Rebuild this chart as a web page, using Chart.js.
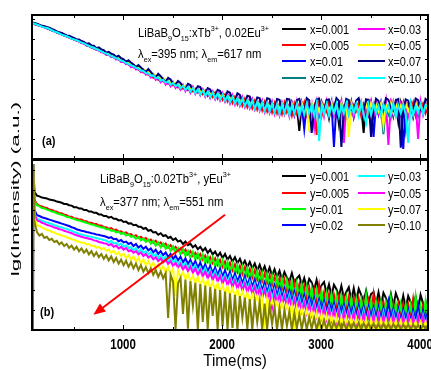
<!DOCTYPE html>
<html>
<head>
<meta charset="utf-8">
<script src="https://cdn.jsdelivr.net/npm/chart.js@4.4.0/dist/chart.umd.min.js"></script>
<style>
  html, body { margin: 0; padding: 0; background: #fff; }
  #wrap { position: relative; width: 431px; height: 370px; overflow: hidden; }
  #wrap canvas { position: absolute; left: 0; top: 0; }
</style>
</head>
<body>
<div id="wrap">
  <canvas id="chartB" width="431" height="370"></canvas>
  <canvas id="chartA" width="431" height="370"></canvas>
</div>
<script>
// ---------------------------------------------------------
// Data (lg intensity in arbitrary units, time in ms)
// ---------------------------------------------------------
const timeA = [80,105,130,155,180,205,230,255,280,305,
  330,355,380,405,430,455,480,505,530,555,
  580,605,630,655,680,705,730,755,780,805,
  830,855,880,905,930,955,980,1005,1030,1055,
  1080,1105,1130,1155,1180,1205,1230,1255,1280,1305,
  1330,1355,1380,1405,1430,1455,1480,1505,1530,1555,
  1580,1605,1630,1655,1680,1705,1730,1755,1780,1805,
  1830,1855,1880,1905,1930,1955,1980,2005,2030,2055,
  2080,2105,2130,2155,2180,2205,2230,2255,2280,2305,
  2330,2355,2380,2405,2430,2455,2480,2505,2530,2555,
  2580,2605,2630,2655,2680,2705,2730,2755,2780,2805,
  2830,2855,2880,2905,2930,2955,2980,3005,3030,3055,
  3080,3105,3130,3155,3180,3205,3230,3255,3280,3305,
  3330,3355,3380,3405,3430,3455,3480,3505,3530,3555,
  3580,3605,3630,3655,3680,3705,3730,3755,3780,3805,
  3830,3855,3880,3905,3930,3955,3980,4005,4030,4055,
  4080];
// panel (b) curves start with the excitation rise
const timeB = [90, 92].concat(timeA.slice(1));

const xTicks = [1000, 2000, 3000, 4000];
const xMinorTicks = [500, 1500, 2500, 3500];

// panel (a): LiBaB9O15:xTb3+, 0.02Eu3+
const seriesALabels = ['x=0.001', 'x=0.005', 'x=0.01', 'x=0.02', 'x=0.03', 'x=0.05', 'x=0.07', 'x=0.10'];
const seriesAColors = ['#000000', '#ff0000', '#0000ff', '#008080', '#ff00ff', '#ffff00', '#000080', '#00ffff'];
const a001 = [3.40,3.39,3.35,3.35,3.31,3.31,3.27,3.26,3.22,3.21, 3.16,3.15,3.11,3.10,3.06,3.05,3.01,3.00,2.96,2.95,
  2.90,2.90,2.84,2.85,2.79,2.79,2.73,2.74,2.68,2.68, 2.61,2.63,2.56,2.58,2.50,2.52,2.44,2.47,2.38,2.41,
  2.32,2.35,2.26,2.30,2.19,2.24,2.13,2.18,2.06,2.12, 2.00,2.07,1.94,2.00,1.90,1.96,1.84,1.91,1.80,1.87,
  1.75,1.84,1.72,1.80,1.68,1.78,1.65,1.75,1.62,1.72, 1.58,1.70,1.55,1.67,1.52,1.65,1.49,1.62,1.46,1.60,
  1.42,1.57,1.40,1.53,1.36,1.50,1.33,1.48,1.30,1.47, 1.26,1.45,1.25,1.42,1.20,1.41,1.18,1.40,1.16,1.39,
  1.12,1.38,1.15,1.36,1.10,1.40,1.14,1.35,0.70,1.37, 1.08,1.41,1.16,1.33,1.05,1.38,1.12,1.42,1.18,1.34,
  1.02,1.39,1.15,1.36,0.88,1.40,1.10,1.35,1.14,1.43, 1.06,1.37,1.19,1.32,0.65,1.38,1.11,1.41,1.09,1.36,
  1.15,1.39,1.03,1.34,1.17,1.42,1.08,1.37,0.92,1.40, 1.12,1.35,1.18,1.41,1.06,1.38,1.13,1.33,1.16,1.40,1.21];
const a005 = [3.41,3.37,3.36,3.33,3.33,3.29,3.29,3.24,3.24,3.19, 3.18,3.13,3.13,3.08,3.08,3.03,3.03,2.98,2.98,2.93,
  2.93,2.88,2.87,2.82,2.82,2.76,2.76,2.71,2.71,2.65, 2.65,2.60,2.60,2.54,2.55,2.48,2.49,2.42,2.43,2.36,
  2.37,2.29,2.31,2.23,2.25,2.16,2.19,2.10,2.14,2.03, 2.08,1.98,2.02,1.94,1.98,1.88,1.93,1.84,1.89,1.79,
  1.85,1.76,1.82,1.72,1.79,1.69,1.76,1.66,1.73,1.62, 1.71,1.58,1.68,1.55,1.66,1.51,1.63,1.48,1.61,1.44,
  1.58,1.40,1.55,1.37,1.52,1.33,1.50,1.30,1.48,1.27, 1.45,1.24,1.43,1.22,1.42,1.19,1.40,1.17,1.39,1.15,
  1.37,1.13,1.40,1.17,1.35,1.09,1.38,1.14,1.36,1.20, 1.41,1.11,1.37,1.16,1.33,0.60,1.39,1.07,1.34,1.19,
  1.42,1.13,1.36,1.10,1.40,1.18,1.32,1.06,1.38,1.15, 1.35,1.21,1.41,1.08,1.36,1.14,1.39,0.82,1.33,1.17,
  1.40,1.10,1.37,1.19,1.34,1.05,1.42,1.16,1.36,1.12, 1.39,0.75,1.33,1.18,1.41,1.09,1.35,1.20,1.38,1.14,1.29];
const a01 = [3.39,3.38,3.36,3.34,3.31,3.30,3.27,3.25,3.22,3.20, 3.17,3.14,3.12,3.09,3.07,3.04,3.02,2.99,2.97,2.94,
  2.91,2.89,2.85,2.83,2.80,2.77,2.74,2.72,2.69,2.66, 2.63,2.61,2.58,2.55,2.52,2.49,2.46,2.43,2.40,2.37,
  2.33,2.31,2.27,2.25,2.21,2.19,2.15,2.13,2.09,2.07, 2.02,2.01,1.96,1.97,1.92,1.93,1.86,1.89,1.83,1.85,
  1.78,1.82,1.74,1.79,1.70,1.76,1.66,1.74,1.63,1.71, 1.60,1.69,1.56,1.66,1.53,1.64,1.50,1.61,1.47,1.59,
  1.44,1.56,1.41,1.53,1.37,1.50,1.34,1.47,1.31,1.45, 1.28,1.43,1.26,1.41,1.23,1.40,1.20,1.38,1.19,1.37,
  1.15,1.36,1.17,1.40,1.13,1.35,1.10,1.38,1.16,1.34, 0.75,1.39,1.12,1.36,1.18,1.41,1.09,1.33,1.15,1.38,
  1.11,1.40,0.30,1.35,1.14,1.37,1.07,1.42,1.16,1.34, 1.10,1.39,1.17,1.36,1.05,1.40,1.13,1.33,0.55,1.38,
  1.12,1.41,1.08,1.35,1.18,1.37,1.11,1.40,1.14,1.34, 0.25,1.38,1.16,1.33,1.09,1.41,1.13,1.36,1.17,1.39,1.24];
const a02 = [3.40,3.38,3.35,3.34,3.32,3.29,3.28,3.25,3.22,3.20, 3.17,3.15,3.12,3.10,3.06,3.05,3.01,3.00,2.96,2.95,
  2.91,2.89,2.86,2.83,2.80,2.78,2.74,2.73,2.69,2.67, 2.63,2.62,2.58,2.56,2.52,2.51,2.46,2.45,2.40,2.39,
  2.34,2.33,2.28,2.27,2.22,2.21,2.16,2.15,2.10,2.09, 2.03,2.04,1.97,1.99,1.92,1.94,1.87,1.90,1.83,1.86,
  1.79,1.82,1.75,1.80,1.71,1.77,1.67,1.74,1.64,1.71, 1.61,1.68,1.58,1.65,1.55,1.63,1.51,1.60,1.48,1.57,
  1.45,1.54,1.42,1.51,1.38,1.49,1.35,1.46,1.32,1.44, 1.29,1.42,1.27,1.40,1.24,1.39,1.22,1.37,1.20,1.36,
  1.17,1.35,1.14,1.37,1.12,1.33,1.15,1.36,1.10,1.32, 1.16,1.38,0.85,1.34,1.13,1.37,1.11,1.31,1.17,1.39,
  1.09,1.35,1.15,1.33,1.12,1.38,0.95,1.34,1.14,1.36, 1.11,1.32,1.16,1.39,1.08,1.35,1.13,1.37,1.10,1.33,
  1.15,1.38,0.62,1.34,1.12,1.36,1.17,1.31,1.09,1.37, 1.14,1.35,1.11,1.39,1.16,1.32,1.08,1.36,1.13,1.34,1.23];
const a03 = [3.40,3.37,3.36,3.33,3.32,3.29,3.27,3.25,3.23,3.19, 3.17,3.14,3.12,3.09,3.07,3.04,3.01,2.99,2.96,2.94,
  2.90,2.88,2.85,2.83,2.79,2.77,2.73,2.72,2.67,2.66, 2.61,2.61,2.55,2.56,2.49,2.50,2.43,2.44,2.37,2.38,
  2.30,2.33,2.24,2.27,2.17,2.21,2.11,2.15,2.04,2.10, 1.98,2.05,1.92,1.99,1.86,1.95,1.82,1.92,1.78,1.88,
  1.74,1.85,1.70,1.82,1.66,1.80,1.63,1.77,1.60,1.74, 1.56,1.72,1.53,1.69,1.50,1.67,1.47,1.64,1.44,1.62,
  1.40,1.59,1.37,1.56,1.34,1.54,1.31,1.51,1.28,1.49, 1.25,1.47,1.22,1.45,1.19,1.44,1.17,1.42,1.14,1.41,
  1.11,1.40,1.14,1.42,1.08,1.39,1.13,1.43,1.05,1.40, 1.10,1.41,1.15,1.38,0.80,1.42,1.12,1.39,1.07,1.44,
  1.14,1.40,1.09,1.37,1.16,1.43,0.40,1.38,1.11,1.41, 1.06,1.39,1.15,1.42,1.10,1.36,1.13,1.44,1.08,1.40,
  1.14,1.37,1.05,1.43,0.35,1.39,1.12,1.41,1.09,1.38, 1.16,1.42,1.07,1.36,1.13,1.40,0.50,1.43,1.11,1.38,1.18];
const a05 = [3.41,3.39,3.37,3.35,3.33,3.31,3.29,3.27,3.24,3.21, 3.18,3.16,3.13,3.11,3.08,3.06,3.03,3.01,2.98,2.96,
  2.93,2.91,2.88,2.85,2.82,2.80,2.77,2.74,2.71,2.69, 2.66,2.63,2.60,2.57,2.55,2.52,2.49,2.46,2.43,2.40,
  2.37,2.34,2.32,2.28,2.25,2.23,2.21,2.17,2.14,2.12, 2.09,2.06,2.02,2.01,1.98,1.96,1.92,1.91,1.89,1.87,
  1.84,1.83,1.82,1.79,1.76,1.77,1.72,1.74,1.70,1.71, 1.66,1.68,1.64,1.65,1.59,1.63,1.58,1.60,1.56,1.58,
  1.52,1.55,1.48,1.52,1.46,1.50,1.43,1.47,1.40,1.44, 1.37,1.42,1.35,1.40,1.33,1.39,1.31,1.38,1.29,1.37,
  1.24,1.39,1.26,1.36,1.20,1.38,1.23,1.35,1.21,1.40, 1.18,1.36,0.70,1.39,1.22,1.35,1.19,1.38,1.25,1.37,
  1.20,1.40,1.16,1.34,1.23,1.39,1.18,1.36,0.55,1.38, 1.21,1.35,1.15,1.40,1.22,1.37,1.17,1.39,1.24,1.36,
  1.19,1.38,0.85,1.35,1.21,1.40,1.16,1.37,1.23,1.34, 1.18,1.39,1.20,1.36,1.14,1.41,1.22,1.35,1.19,1.38,1.22];
const a07 = [3.41,3.40,3.38,3.36,3.33,3.32,3.30,3.28,3.25,3.23, 3.19,3.17,3.15,3.12,3.09,3.08,3.05,3.03,2.99,2.99,
  2.95,2.93,2.88,2.89,2.84,2.83,2.77,2.79,2.74,2.72, 2.66,2.68,2.63,2.61,2.55,2.58,2.52,2.49,2.43,2.47,
  2.41,2.36,2.30,2.35,2.29,2.22,2.18,2.25,2.18,2.10, 2.04,2.13,2.07,1.99,1.93,2.03,1.99,1.88,1.86,1.95,
  1.90,1.80,1.76,1.88,1.85,1.72,1.70,1.82,1.80,1.66, 1.64,1.77,1.74,1.60,1.58,1.73,1.70,1.55,1.52,1.69,
  1.66,1.48,1.46,1.64,1.60,1.42,1.40,1.58,1.56,1.36, 1.35,1.54,1.52,1.32,1.30,1.52,1.50,1.27,1.27,1.50,
  1.48,1.24,1.25,1.50,1.49,1.20,1.22,1.47,1.50,1.28, 1.18,1.52,1.47,0.65,1.24,1.49,1.51,1.21,1.19,1.48,
  1.49,1.22,1.26,1.52,1.45,0.30,1.20,1.50,1.47,1.24, 1.19,1.46,1.52,1.25,1.21,1.49,1.48,0.55,1.23,1.51,
  1.45,1.17,1.22,1.52,1.48,1.25,1.20,1.47,1.50,0.28, 1.21,1.49,1.46,1.18,1.24,1.51,1.47,1.22,1.19,1.50,1.44];
const a10 = [3.40,3.38,3.36,3.34,3.31,3.29,3.28,3.25,3.22,3.19, 3.17,3.14,3.11,3.09,3.07,3.04,3.01,2.99,2.97,2.94,
  2.91,2.89,2.86,2.83,2.80,2.78,2.75,2.72,2.69,2.66, 2.64,2.61,2.58,2.55,2.52,2.49,2.46,2.44,2.40,2.38,
  2.34,2.32,2.28,2.26,2.21,2.20,2.15,2.14,2.08,2.09, 2.02,2.04,1.96,1.98,1.91,1.94,1.86,1.90,1.82,1.86,
  1.77,1.83,1.73,1.80,1.69,1.77,1.65,1.74,1.62,1.71, 1.58,1.69,1.55,1.66,1.52,1.64,1.49,1.61,1.46,1.58,
  1.43,1.55,1.40,1.52,1.36,1.50,1.33,1.47,1.30,1.45, 1.26,1.43,1.24,1.41,1.21,1.40,1.19,1.38,1.17,1.37,
  1.13,1.36,1.16,1.38,1.10,1.34,1.14,1.37,1.08,1.33, 1.12,1.38,1.15,1.35,1.09,1.39,0.45,1.34,1.13,1.37,
  1.10,1.33,1.16,1.38,1.07,1.35,1.14,1.39,1.11,1.34, 1.15,1.37,1.08,1.40,1.12,0.90,1.36,1.10,1.38,1.14,
  1.33,1.09,1.37,1.16,1.35,1.11,1.39,1.07,1.34,1.15, 1.36,1.12,0.40,1.38,1.10,1.33,1.16,1.37,1.13,1.35,1.30];
const seriesA = [a001, a005, a01, a02, a03, a05, a07, a10];

// panel (b): LiBaB9O15:0.02Tb3+, yEu3+
const seriesBLabels = ['y=0.001', 'y=0.005', 'y=0.01', 'y=0.02', 'y=0.03', 'y=0.05', 'y=0.07', 'y=0.10'];
const seriesBColors = ['#000000', '#ff0000', '#00ff00', '#0000ff', '#00ffff', '#ff00ff', '#ffff00', '#808000'];
const b001 = [0,4.15,
  3.45,3.36,3.34,3.31,3.30,3.29,3.26,3.25,3.24,3.21, 3.20,3.18,3.15,3.15,3.12,3.11,3.07,3.07,3.04,3.04,
  3.00,3.00,2.96,2.96,2.93,2.93,2.89,2.89,2.85,2.85, 2.81,2.83,2.78,2.78,2.74,2.75,2.70,2.71,2.66,2.67,
  2.62,2.63,2.58,2.58,2.53,2.55,2.48,2.50,2.44,2.45, 2.38,2.42,2.35,2.37,2.30,2.33,2.25,2.29,2.21,2.24,
  2.15,2.21,2.12,2.16,2.07,2.12,2.02,2.08,1.98,2.05, 1.93,2.01,1.89,1.96,1.84,1.93,1.80,1.90,1.76,1.85,
  1.71,1.82,1.67,1.78,1.62,1.73,1.58,1.70,1.54,1.66, 1.49,1.63,1.45,1.59,1.40,1.56,1.36,1.52,1.32,1.48,
  1.26,1.45,1.31,1.22,1.42,1.18,1.29,1.36,1.12,1.30, 1.04,1.28,1.19,1.00,1.25,0.96,1.12,1.20,0.92,1.14,
  0.86,1.13,1.02,0.83,1.10,0.80,0.95,1.07,0.74,1.04, 0.72,1.03,0.88,0.70,0.98,0.68,0.90,0.95,0.64,0.94,
  0.62,0.93,0.80,0.60,0.90,0.58,0.92,0.75,0.55,0.86, 0.54,0.85,0.70,0.52,0.83,0.50,0.88,0.66,0.48,0.79];
const b005 = [0,4.15,
  3.25,3.15,3.11,3.09,3.06,3.05,3.01,3.00,2.97,2.96, 2.92,2.92,2.88,2.87,2.83,2.83,2.79,2.79,2.76,2.76,
  2.72,2.72,2.68,2.68,2.65,2.65,2.61,2.61,2.57,2.57, 2.53,2.55,2.50,2.51,2.46,2.47,2.42,2.44,2.39,2.40,
  2.34,2.37,2.30,2.33,2.27,2.30,2.23,2.26,2.18,2.23, 2.14,2.19,2.10,2.16,2.06,2.12,2.02,2.08,1.98,2.04,
  1.93,2.01,1.89,1.97,1.85,1.93,1.81,1.90,1.76,1.86, 1.71,1.82,1.67,1.79,1.63,1.75,1.58,1.71,1.54,1.68,
  1.49,1.64,1.45,1.60,1.40,1.57,1.36,1.52,1.31,1.49, 1.26,1.45,1.22,1.41,1.17,1.37,1.12,1.33,1.08,1.30,
  1.02,1.26,0.98,1.22,0.93,1.19,0.88,1.14,0.84,1.10, 0.79,1.06,0.74,1.02,0.70,1.12,0.66,0.94,0.62,0.90,
  0.60,0.88,0.57,0.86,0.54,0.84,0.52,0.82,0.49,0.80, 0.47,0.78,0.45,0.76,0.43,0.74,0.42,0.90,0.40,0.71,
  0.39,0.70,0.38,0.68,0.37,0.67,0.36,0.66,0.35,0.65, 0.34,0.64,0.33,0.78,0.32,0.63,0.31,0.62,0.30,0.75];
const b01 = [0,4.15,
  3.22,3.12,3.09,3.05,3.04,3.01,2.99,2.96,2.95,2.92, 2.90,2.88,2.86,2.83,2.82,2.79,2.78,2.75,2.74,2.72,
  2.70,2.68,2.66,2.64,2.63,2.60,2.59,2.56,2.56,2.52, 2.52,2.48,2.49,2.44,2.46,2.40,2.43,2.36,2.39,2.33,
  2.35,2.28,2.32,2.24,2.29,2.20,2.26,2.16,2.23,2.11, 2.19,2.07,2.16,2.03,2.12,1.98,2.09,1.94,2.05,1.89,
  2.02,1.85,1.98,1.80,1.95,1.76,1.91,1.71,1.88,1.66, 1.84,1.62,1.81,1.57,1.77,1.53,1.74,1.48,1.70,1.44,
  1.66,1.39,1.62,1.35,1.59,1.30,1.55,1.26,1.51,1.21, 1.47,1.16,1.43,1.11,1.40,1.06,1.36,1.01,1.32,0.97,
  1.28,0.92,1.24,0.87,1.21,0.82,1.17,0.77,1.13,0.72, 1.08,0.68,1.04,0.63,1.00,0.59,0.96,0.55,0.92,0.52,
  0.90,0.50,0.87,0.47,0.85,0.45,0.82,0.43,0.80,0.41, 0.78,0.39,0.76,0.37,0.88,0.36,0.73,0.34,0.71,0.33,
  0.70,0.32,0.68,0.31,0.80,0.30,0.66,0.29,0.65,0.28, 0.64,0.27,0.63,0.26,0.84,0.26,0.61,0.25,0.72,0.24];
const b02 = [0,4.15,
  3.00,2.87,2.85,2.82,2.80,2.78,2.76,2.74,2.72,2.70, 2.68,2.66,2.64,2.62,2.60,2.57,2.55,2.52,2.50,2.48,
  2.47,2.45,2.44,2.42,2.41,2.39,2.38,2.36,2.35,2.33, 2.30,2.32,2.27,2.28,2.22,2.25,2.19,2.21,2.15,2.18,
  2.10,2.15,2.06,2.11,2.03,2.08,1.99,2.04,1.94,2.01, 1.90,1.97,1.87,1.94,1.83,1.90,1.78,1.86,1.74,1.83,
  1.69,1.79,1.65,1.75,1.61,1.72,1.56,1.68,1.52,1.64, 1.47,1.60,1.43,1.56,1.38,1.53,1.34,1.49,1.30,1.45,
  1.25,1.41,1.21,1.37,1.16,1.34,1.12,1.30,1.08,1.26, 1.03,1.22,0.99,1.18,0.94,1.15,0.90,1.11,0.86,1.07,
  0.81,1.03,0.76,0.99,0.72,0.95,0.68,0.91,0.64,0.87, 0.60,0.83,0.56,0.80,0.52,0.76,0.49,0.73,0.46,0.70,
  0.44,0.68,0.42,0.66,0.40,0.64,0.38,0.63,0.36,0.62, 0.34,0.61,0.33,0.60,0.31,0.58,0.30,0.57,0.29,0.56,
  0.28,0.55,0.27,0.70,0.26,0.53,0.25,0.52,0.24,0.51, 0.23,0.50,0.22,0.49,0.21,0.62,0.20,0.48,0.19,0.47];
const b03 = [0,4.15,
  2.90,2.78,2.76,2.73,2.71,2.69,2.67,2.65,2.62,2.61, 2.58,2.57,2.54,2.53,2.50,2.48,2.45,2.43,2.40,2.39,
  2.37,2.36,2.34,2.33,2.31,2.30,2.28,2.27,2.25,2.24, 2.19,2.23,2.16,2.18,2.12,2.16,2.08,2.12,2.05,2.07,
  2.00,2.05,1.95,2.02,1.92,1.97,1.89,1.95,1.84,1.90, 1.80,1.87,1.76,1.84,1.72,1.79,1.69,1.76,1.63,1.73,
  1.59,1.68,1.55,1.66,1.50,1.62,1.47,1.57,1.42,1.55, 1.37,1.50,1.33,1.47,1.27,1.43,1.25,1.38,1.20,1.36,
  1.14,1.31,1.11,1.26,1.06,1.24,1.01,1.20,0.98,1.15, 0.92,1.12,0.89,1.07,0.84,1.05,0.79,1.01,0.76,0.96,
  0.70,0.93,0.66,0.88,0.62,0.85,0.57,0.81,0.54,0.76, 0.50,0.72,0.46,0.70,0.42,0.66,0.38,0.63,0.36,0.59,
  0.34,0.57,0.31,0.56,0.29,0.54,0.28,0.52,0.25,0.52, 0.24,0.50,0.22,0.50,0.21,0.48,0.19,0.47,0.18,0.46,
  0.17,0.45,0.16,0.44,0.15,0.43,0.14,0.42,0.13,0.41, 0.12,0.40,0.11,0.39,0.10,0.38,0.09,0.37,0.08,0.36];
const b05 = [0,4.15,
  2.90,2.74,2.72,2.68,2.66,2.63,2.61,2.59,2.56,2.55, 2.52,2.51,2.48,2.46,2.44,2.42,2.39,2.37,2.35,2.33,
  2.31,2.30,2.28,2.27,2.24,2.23,2.20,2.19,2.17,2.16, 2.12,2.15,2.08,2.11,2.04,2.08,2.01,2.05,1.97,2.00,
  1.93,1.97,1.89,1.94,1.85,1.90,1.81,1.86,1.77,1.82, 1.72,1.79,1.69,1.76,1.65,1.72,1.60,1.68,1.56,1.65,
  1.51,1.61,1.47,1.58,1.43,1.54,1.38,1.50,1.34,1.46, 1.29,1.43,1.25,1.39,1.21,1.35,1.16,1.31,1.12,1.27,
  1.07,1.24,1.03,1.20,0.98,1.16,0.94,1.12,0.90,1.08, 0.85,1.04,0.80,1.00,0.76,0.96,0.55,0.92,0.68,0.88,
  0.63,0.84,0.59,0.80,0.55,0.76,0.50,0.72,0.46,0.68, 0.42,0.65,0.38,0.61,0.34,0.58,0.30,0.55,0.27,0.52,
  0.24,0.50,0.22,0.48,0.05,0.46,0.19,0.44,0.17,0.43, 0.15,0.42,0.14,0.41,0.12,0.40,0.11,0.39,0.02,0.38,
  0.10,0.37,0.09,0.37,0.08,0.36,0.07,0.35,0.06,0.35, 0.05,0.34,0.04,0.34,0.03,0.33,0.04,0.33,0.03,0.32];
const b07 = [0,4.15,
  2.80,2.62,2.60,2.56,2.54,2.50,2.49,2.45,2.44,2.40, 2.39,2.36,2.35,2.31,2.30,2.27,2.26,2.22,2.21,2.18,
  2.18,2.14,2.15,2.10,2.11,2.06,2.08,2.02,2.05,1.98, 2.01,1.93,1.98,1.89,1.94,1.85,1.91,1.80,1.87,1.76,
  1.84,1.71,1.80,1.67,1.76,1.62,1.72,1.58,1.68,1.54, 1.64,1.49,1.60,1.44,1.57,1.40,1.53,0.85,1.49,1.33,
  1.45,1.27,1.40,1.22,1.36,1.18,1.32,1.13,1.28,1.09, 1.24,1.05,1.20,1.00,1.16,0.96,1.12,0.91,1.08,0.87,
  1.04,0.84,1.01,0.80,0.97,0.76,0.93,0.72,0.89,0.68, 0.86,0.65,0.82,0.20,0.79,0.57,0.75,0.53,0.71,0.49,
  0.68,0.45,0.64,0.41,0.60,0.08,0.57,0.33,0.53,0.29, 0.50,0.25,0.46,0.21,0.43,0.05,0.40,0.14,0.37,0.10,
  0.35,0.06,0.33,0.03,0.31,0.08,0.30,0.02,0.29,0.05, 0.28,0.03,0.27,0.06,0.26,0.01,0.26,0.04,0.25,0.02,
  0.25,0.05,0.24,0.01,0.24,0.03,0.23,0.02,0.23,0.04, 0.22,0.01,0.22,0.03,0.21,0.02,0.21,0.04,0.20,0.01];
const b10 = [0,4.15,
  2.70,2.45,2.36,2.40,2.30,2.33,2.25,2.28,2.20,2.23, 2.14,2.19,2.10,2.15,2.05,2.11,2.01,2.08,1.97,2.04,
  1.93,2.01,1.89,1.97,1.85,1.94,1.82,1.90,1.78,1.87, 1.74,1.84,1.70,1.80,1.66,1.76,1.62,1.73,1.58,1.69,
  1.54,1.66,1.50,1.62,1.46,1.57,1.42,1.54,1.38,1.50, 1.33,1.46,1.29,1.42,0.30,1.38,1.21,0.02,1.17,1.30,
  0.40,1.26,0.03,1.22,0.60,1.18,0.01,1.15,0.20,1.11, 0.02,1.07,0.35,1.03,0.01,1.00,0.10,0.96,0.02,0.92,
  0.05,0.88,0.01,0.85,0.30,0.81,0.02,0.77,0.01,0.73, 0.20,0.70,0.01,0.66,0.03,0.62,0.15,0.58,0.01,0.54,
  0.02,0.50,0.10,0.46,0.01,0.43,0.05,0.39,0.02,0.36, 0.01,0.33,0.03,0.30,0.01,0.27,0.02,0.25,0.01,0.23,
  0.01,0.21,0.04,0.20,0.02,0.19,0.01,0.19,0.03,0.18, 0.02,0.18,0.01,0.17,0.03,0.17,0.01,0.16,0.02,0.16,
  0.01,0.16,0.02,0.15,0.01,0.15,0.03,0.15,0.01,0.14, 0.02,0.14,0.01,0.14,0.02,0.13,0.01,0.13,0.02,0.13];
const seriesB = [b001, b005, b01, b02, b03, b05, b07, b10];

// red guide arrow in panel (b), data coordinates [time, lg I]
const arrowFrom = [2030, 2.88];
const arrowTo = [700, 0.38];

// ---------------------------------------------------------
// Drawing helpers
// ---------------------------------------------------------
const FONT = '"Liberation Sans", Arial, sans-serif';

function squeezedText(ctx, str, x, y, font, sx, align) {
    ctx.save();
    ctx.font = font;
    ctx.textAlign = align || 'left';
    ctx.translate(x, y);
    ctx.scale(sx, 1);
    ctx.fillText(str, 0, 0);
    ctx.restore();
}

// parts: [text, kind] with kind 1 = subscript, 2 = superscript
function richText(ctx, parts, x, y, size, sx) {
    ctx.save();
    ctx.translate(x, y);
    ctx.scale(sx, 1);
    ctx.textAlign = 'left';
    let cx = 0;
    parts.forEach(([t, k]) => {
        const fs = k ? size * 0.64 : size;
        ctx.font = fs + 'px ' + FONT;
        const dy = k === 1 ? size * 0.32 : (k === 2 ? -size * 0.45 : 0);
        ctx.fillText(t, cx, dy);
        cx += ctx.measureText(t).width;
    });
    ctx.restore();
}

const panelDecor = {
    id: 'panelDecor',
    afterDatasetsDraw(chart, args, o) {
        const ctx = chart.ctx, a = chart.chartArea;
        const sx = chart.scales.x, sy = chart.scales.y;
        ctx.save();
        ctx.fillStyle = '#000';
        ctx.strokeStyle = '#000';

        // inward tick marks on all four sides
        ctx.lineWidth = 1;
        ctx.beginPath();
        xTicks.forEach(v => {
            const p = Math.round(sx.getPixelForValue(v)) + 0.5;
            ctx.moveTo(p, a.bottom); ctx.lineTo(p, a.bottom - 5);
            ctx.moveTo(p, a.top); ctx.lineTo(p, a.top + 5);
        });
        xMinorTicks.forEach(v => {
            const p = Math.round(sx.getPixelForValue(v)) + 0.5;
            ctx.moveTo(p, a.bottom); ctx.lineTo(p, a.bottom - 3);
            ctx.moveTo(p, a.top); ctx.lineTo(p, a.top + 3);
        });
        for (let v = 0.5; v < sy.max; v += 0.5) {
            const p = Math.round(sy.getPixelForValue(v)) + 0.5;
            ctx.moveTo(a.left, p); ctx.lineTo(a.left + 3, p);
            ctx.moveTo(a.right, p); ctx.lineTo(a.right - 3, p);
        }
        ctx.stroke();

        // frame
        ctx.lineWidth = 2;
        ctx.strokeRect(a.left, a.top, a.right - a.left, a.bottom - a.top);

        // annotation
        richText(ctx, o.title, o.textX, o.titleY, 12.5, 0.9);
        richText(ctx, o.subtitle, o.textX, o.subY, 12.5, 0.9);
        squeezedText(ctx, o.tag, o.tagX, o.tagY, 'bold 13px ' + FONT, 0.85);

        // legend, two columns of four
        ctx.textBaseline = 'middle';
        chart.data.datasets.forEach((ds, i) => {
            const col = i < 4 ? 0 : 1;
            const yy = o.legendRows[i % 4];
            const x0 = col === 0 ? 282 : 358;
            const len = col === 0 ? 24 : 27;
            ctx.strokeStyle = ds.borderColor;
            ctx.lineWidth = 2;
            ctx.beginPath();
            ctx.moveTo(x0, yy); ctx.lineTo(x0 + len, yy);
            ctx.stroke();
            squeezedText(ctx, ds.label, col === 0 ? 310 : 388, yy + 1, '13px ' + FONT, 0.84);
        });
        ctx.textBaseline = 'alphabetic';

        if (o.axisText) {
            xTicks.forEach(v => {
                squeezedText(ctx, String(v), sx.getPixelForValue(v), 349, 'bold 14px ' + FONT, 0.82, 'center');
            });
            squeezedText(ctx, 'Time(ms)', 235, 366, '16px ' + FONT, 0.95, 'center');
            // rotated y title spanning both panels
            ctx.save();
            ctx.translate(19, 189);
            ctx.rotate(-Math.PI / 2);
            ctx.scale(1.6, 0.8);
            ctx.font = '14px ' + FONT;
            ctx.textAlign = 'center';
            ctx.fillText('lg(Intensity) (a.u.)', 0, 0);
            ctx.restore();
        }

        if (o.arrow) {
            const x1 = sx.getPixelForValue(arrowFrom[0]), y1 = sy.getPixelForValue(arrowFrom[1]);
            const x2 = sx.getPixelForValue(arrowTo[0]), y2 = sy.getPixelForValue(arrowTo[1]);
            const ang = Math.atan2(y2 - y1, x2 - x1);
            ctx.strokeStyle = '#ff0000';
            ctx.fillStyle = '#ff0000';
            ctx.lineWidth = 2;
            ctx.beginPath();
            ctx.moveTo(x1, y1);
            ctx.lineTo(x2 - 8 * Math.cos(ang), y2 - 8 * Math.sin(ang));
            ctx.stroke();
            ctx.beginPath();
            ctx.moveTo(x2, y2);
            ctx.lineTo(x2 - 12 * Math.cos(ang) + 5 * Math.sin(ang), y2 - 12 * Math.sin(ang) - 5 * Math.cos(ang));
            ctx.lineTo(x2 - 12 * Math.cos(ang) - 5 * Math.sin(ang), y2 - 12 * Math.sin(ang) + 5 * Math.cos(ang));
            ctx.closePath();
            ctx.fill();
        }
        ctx.restore();
    }
};

function makeDatasets(times, series, labels, colors) {
    return series.map((vals, i) => ({
        label: labels[i],
        data: vals.map((v, k) => ({ x: times[k], y: v })),
        borderColor: colors[i],
        backgroundColor: colors[i],
        borderWidth: 2,
        pointRadius: 0,
        tension: 0,
        fill: false,
        order: series.length - i   // later entries are painted on top
    }));
}

function panelOptions(yMax, padding, decor) {
    return {
        responsive: false,
        animation: false,
        devicePixelRatio: 1,
        layout: { padding: padding },
        plugins: { legend: { display: false }, tooltip: { enabled: false }, panelDecor: decor },
        scales: {
            x: { type: 'linear', min: 80, max: 4080, display: false },
            y: { min: 0, max: yMax, display: false }
        }
    };
}

new Chart(document.getElementById('chartB'), {
    type: 'line',
    data: { datasets: makeDatasets(timeB, seriesB, seriesBLabels, seriesBColors) },
    options: panelOptions(4.25, { left: 32, right: 3, top: 160, bottom: 40 }, {
        title: [['LiBaB'], ['9', 1], ['O'], ['15', 1], [':0.02Tb'], ['3+', 2], [', yEu'], ['3+', 2]],
        subtitle: [['λ'], ['ex', 1], ['=377 nm; λ'], ['em', 1], ['=551 nm']],
        textX: 100, titleY: 183, subY: 206,
        tag: '(b)', tagX: 40, tagY: 316,
        legendRows: [176, 193, 209, 225],
        axisText: true, arrow: true
    }),
    plugins: [panelDecor]
});

new Chart(document.getElementById('chartA'), {
    type: 'line',
    data: { datasets: makeDatasets(timeA, seriesA, seriesALabels, seriesAColors) },
    options: panelOptions(3.6, { left: 32, right: 3, top: 15, bottom: 211 }, {
        title: [['LiBaB'], ['9', 1], ['O'], ['15', 1], [':xTb'], ['3+', 2], [', 0.02Eu'], ['3+', 2]],
        subtitle: [['λ'], ['ex', 1], ['=395 nm; λ'], ['em', 1], ['=617 nm']],
        textX: 138, titleY: 37, subY: 58,
        tag: '(a)', tagX: 42, tagY: 145,
        legendRows: [29, 45, 61, 78],
        axisText: false, arrow: false
    }),
    plugins: [panelDecor]
});
</script>
</body>
</html>
